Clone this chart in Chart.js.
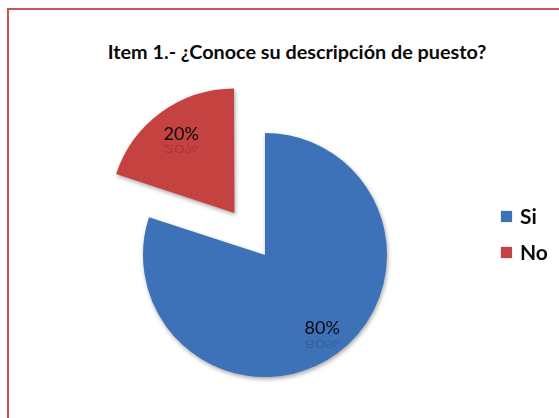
<!DOCTYPE html>
<html><head><meta charset="utf-8">
<script src="https://cdn.jsdelivr.net/npm/chart.js@4"></script>
<style>
html,body{margin:0;padding:0;background:#fff;width:559px;height:418px;overflow:hidden;}
#frame{position:absolute;left:7px;top:8px;width:620px;height:520px;border:2px solid #CC5452;box-sizing:border-box;}
#title{position:absolute;left:0;width:594px;top:39px;text-align:center;font:bold 19.8px Lato, "Open Sans", sans-serif;color:#0a0a0a;white-space:nowrap;}
#wrap{position:absolute;left:0;top:0;width:559px;height:418px;}
#legend{position:absolute;left:501px;top:203px;font:bold 21px Lato, "Open Sans", sans-serif;color:#0a0a0a;}
.item{position:relative;height:36px;}
.box{position:absolute;left:0;top:8px;width:11px;height:11px;box-shadow:0 0 1px rgba(0,0,0,0.4);}
.txt{position:absolute;left:19px;top:0;line-height:25px;}
</style></head>
<body>
<div id="frame"></div>
<div id="title">Item 1.- ¿Conoce su descripción de puesto?</div>
<div id="wrap"><canvas id="c" width="559" height="418"></canvas></div>
<div id="legend"></div>
<script>
const categories = ["Si", "No"];
const values = [80, 20];
const colors = ["#3E72B8", "#C4423F"];
const explode = [0, 208];

const shadowPlugin = {
  id: 'sliceShadow',
  beforeDatasetsDraw(chart) {
    const ctx = chart.ctx;
    ctx.save();
    ctx.shadowColor = 'rgba(0,0,0,0.35)';
    ctx.shadowBlur = 4;
    ctx.shadowOffsetX = 1;
    ctx.shadowOffsetY = 2;
  },
  afterDatasetsDraw(chart) { chart.ctx.restore(); }
};

const labelPlugin = {
  id: 'pctLabels',
  afterDatasetsDraw(chart) {
    const ctx = chart.ctx;
    const meta = chart.getDatasetMeta(0);
    const ds = chart.data.datasets[0];
    const total = ds.data.reduce((a, b) => a + b, 0);
    meta.data.forEach((arc, i) => {
      const p = arc.getProps(['x', 'y', 'startAngle', 'endAngle', 'outerRadius'], true);
      const mid = (p.startAngle + p.endAngle) / 2;
      const off = (ds.offset[i] || 0) / 4;
      const d = off + p.outerRadius * 0.77;
      const lx = p.x + Math.cos(mid) * d + 2;
      const ly = p.y + Math.sin(mid) * d - 3;
      const txt = Math.round(ds.data[i] / total * 100) + '%';
      ctx.save();
      ctx.font = '18px Lato, "Open Sans", sans-serif';
      ctx.textAlign = 'center';
      ctx.textBaseline = 'middle';
      ctx.fillStyle = '#0a0a0a';
      ctx.fillText(txt, lx, ly);
      ctx.globalAlpha = 0.18;
      ctx.translate(lx, ly + 15);
      ctx.scale(1, -0.6);
      ctx.fillText(txt, 0, 0);
      ctx.restore();
    });
  }
};

const chart = new Chart(document.getElementById('c'), {
  type: 'pie',
  data: {
    labels: categories,
    datasets: [{
      data: values,
      backgroundColor: colors,
      borderWidth: 0,
      offset: explode,
      clip: false
    }]
  },
  options: {
    responsive: false,
    animation: false,
    radius: 122,
    layout: { padding: { left: 0, right: 29, top: 92, bottom: 0 } },
    plugins: { legend: { display: false }, title: { display: false }, tooltip: { enabled: false } }
  },
  plugins: [shadowPlugin, labelPlugin]
});

const legend = document.getElementById('legend');
categories.forEach((c, i) => {
  const it = document.createElement('div');
  it.className = 'item';
  it.innerHTML = '<span class="box" style="background:' + colors[i] + '"></span><span class="txt">' + c + '</span>';
  legend.appendChild(it);
});
</script>
</body></html>
